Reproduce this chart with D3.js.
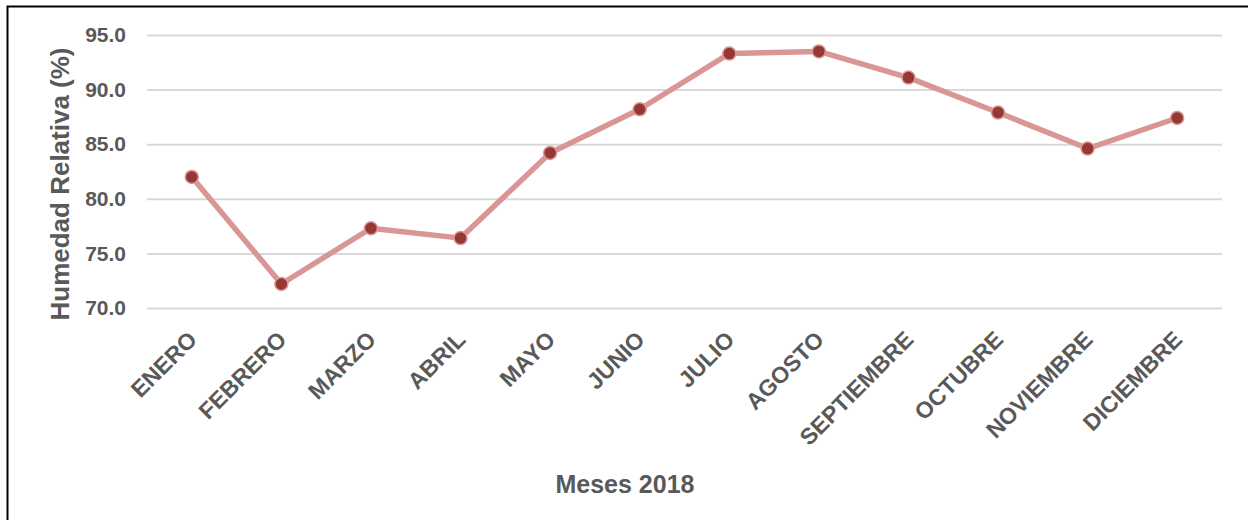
<!DOCTYPE html>
<html>
<head>
<meta charset="utf-8">
<script src="https://cdn.jsdelivr.net/npm/d3@7"></script>
<style>
  html, body { margin: 0; padding: 0; background: #fff; }
  svg { display: block; }
  text { font-family: "Liberation Sans", Arial, sans-serif; font-weight: bold; fill: #595959; }
</style>
</head>
<body>
<svg id="chart" width="1248" height="520"></svg>
<script>
// Monthly relative humidity, 2018
const months = ["ENERO", "FEBRERO", "MARZO", "ABRIL", "MAYO", "JUNIO",
                "JULIO", "AGOSTO", "SEPTIEMBRE", "OCTUBRE", "NOVIEMBRE", "DICIEMBRE"];
const humidity = [82.0, 72.2, 77.3, 76.4, 84.2, 88.2, 93.3, 93.5, 91.1, 87.9, 84.6, 87.4];
const yTicks = [70, 75, 80, 85, 90, 95];

const svg = d3.select("#chart");
const W = 1248, H = 520;
const plot = { left: 147, right: 1222, top: 35, bottom: 308 };
const FONT = "Liberation Sans, Arial, sans-serif";

// outer frame (top and left edges visible)
svg.append("rect")
  .attr("x", 7.5).attr("y", 6.5)
  .attr("width", W + 20).attr("height", H + 20)
  .attr("fill", "none").attr("stroke", "#000").attr("stroke-width", 2);

const x = d3.scalePoint().domain(months).range([plot.left, plot.right]).padding(0.5);
const y = d3.scaleLinear().domain([70, 95]).range([plot.bottom, plot.top]);

// horizontal gridlines
svg.append("g").selectAll("line").data(yTicks).join("line")
  .attr("x1", plot.left).attr("x2", plot.right)
  .attr("y1", d => y(d) + 0.5).attr("y2", d => y(d) + 0.5)
  .attr("stroke", "#d9d9d9").attr("stroke-width", 2);

// y axis labels
const yAxis = svg.append("g")
  .attr("transform", `translate(${plot.left - 21},0)`)
  .call(d3.axisLeft(y).tickValues(yTicks).tickFormat(d3.format(".1f")).tickSize(0).tickPadding(0));
yAxis.select(".domain").remove();
yAxis.selectAll("text")
  .attr("font-size", 21).attr("fill", "#595959")
  .attr("font-family", FONT).attr("font-weight", "bold");

// x axis labels, rotated
const xAxis = svg.append("g")
  .attr("transform", `translate(0,${plot.bottom})`)
  .call(d3.axisBottom(x).tickSize(0).tickPadding(0));
xAxis.select(".domain").remove();
xAxis.selectAll("text")
  .attr("font-size", 23).attr("fill", "#595959")
  .attr("font-family", FONT).attr("font-weight", "bold")
  .attr("text-anchor", "end")
  .attr("dy", "0")
  .attr("y", 0)
  .attr("transform", "translate(6,33) rotate(-45)");

// axis titles
svg.append("text")
  .attr("transform", "translate(69,184) rotate(-90)")
  .attr("text-anchor", "middle")
  .attr("font-size", 26)
  .text("Humedad Relativa (%)");

svg.append("text")
  .attr("x", 625).attr("y", 493)
  .attr("text-anchor", "middle")
  .attr("font-size", 25)
  .text("Meses 2018");

// series line
const line = d3.line().x((d, i) => x(months[i])).y(d => y(d));
svg.append("path")
  .datum(humidity)
  .attr("d", line)
  .attr("fill", "none")
  .attr("stroke", "#D99694")
  .attr("stroke-width", 5.5)
  .attr("stroke-linejoin", "round");

// markers
svg.append("g").selectAll("circle").data(humidity).join("circle")
  .attr("cx", (d, i) => x(months[i]))
  .attr("cy", d => y(d))
  .attr("r", 6.5)
  .attr("fill", "#953735")
  .attr("stroke", "#D99694")
  .attr("stroke-width", 1.5);
</script>
</body>
</html>
